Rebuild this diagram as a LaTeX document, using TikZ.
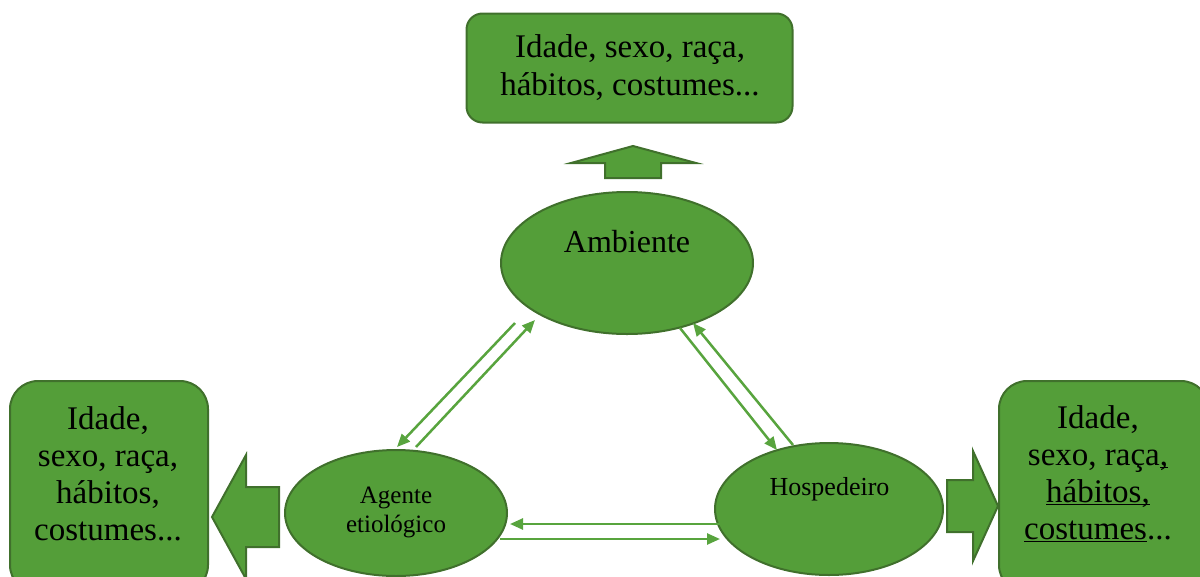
\documentclass[tikz,border=0pt]{standalone}
\usepackage{fontspec}
\setmainfont{Liberation Serif}
\usetikzlibrary{arrows.meta,shapes.geometric}
\definecolor{gfill}{RGB}{84,158,57}
\definecolor{gline}{RGB}{64,112,44}
\definecolor{gconn}{RGB}{88,164,62}
\newcommand{\myul}[1]{\underline{\smash{#1}}\vphantom{#1}}
\tikzset{
  gbox/.style={draw=gline,line width=2pt,fill=gfill,rounded corners=#1},
  gell/.style={ellipse,draw=gline,line width=2pt,fill=gfill,inner sep=0pt},
  blockarrow/.style={draw=gline,line width=2pt,fill=gfill,line join=miter},
  conn/.style={draw=gconn,line width=2.5pt,-{Triangle[length=13pt,width=11pt]}},
  bigtxt/.style={font=\fontsize{33}{38}\selectfont,align=center,inner sep=0pt,text=black},
  sidetxt/.style={font=\fontsize{33}{37}\selectfont,align=center,inner sep=0pt,text=black},
}
\begin{document}
\begin{tikzpicture}[x=1pt,y=-1pt]
\useasboundingbox (0,0) rectangle (1200,576);
% boxes
\node[gbox=16pt,minimum width=326pt,minimum height=109pt] (topbox) at (629.5,68) {};
\node[bigtxt] (toptxt) at (630,68) {Idade, sexo, raça,\\hábitos, costumes...};
\node[gbox=28pt,minimum width=198pt,minimum height=212pt] (leftbox) at (109,487) {};
\node[sidetxt] (lefttxt) at (108,474) {Idade,\\sexo, raça,\\hábitos,\\costumes...};
\node[gbox=28pt,minimum width=210pt,minimum height=212pt] (rightbox) at (1104,487) {};
\node[sidetxt] (righttxt) at (1098,474) {Idade,\\sexo, raça\myul{,}\\\myul{hábitos,}\\\myul{costumes}...};
% ellipses
\node[gell,minimum width=252pt,minimum height=142pt] (amb) at (627,263) {};
\node[font=\fontsize{32}{36}\selectfont,anchor=base,inner sep=0pt] (ambt) at (627,252) {Ambiente};
\node[gell,minimum width=222pt,minimum height=126pt] (age) at (396,513) {};
\node[font=\fontsize{25}{29}\selectfont,align=center,inner sep=0pt] (aget) at (396,512) {Agente\\etiológico};
\node[gell,minimum width=228pt,minimum height=132pt] (hos) at (829,509) {};
\node[font=\fontsize{26}{30}\selectfont,anchor=base,inner sep=0pt] (host) at (829.5,495) {Hospedeiro};
% block arrows
\draw[blockarrow] (633,146) -- (696,163) -- (661,163) -- (661,178) -- (605,178) -- (605,163) -- (571,163) -- cycle;
\draw[blockarrow] (212,517) -- (246,455) -- (246,487) -- (279,487) -- (279,547) -- (246,547) -- (246,579) -- cycle;
\draw[blockarrow] (998,506) -- (973,451) -- (973,480) -- (947,480) -- (947,532) -- (973,532) -- (973,561) -- cycle;
% connector end points
\coordinate (a1) at (515,323); \coordinate (g1) at (397,447);
\coordinate (g2) at (416,447); \coordinate (a2) at (535,320);
\coordinate (a3) at (680,328); \coordinate (h3) at (777,450);
\coordinate (h4) at (793,445); \coordinate (a4) at (693,323);
\coordinate (h5) at (720,524); \coordinate (g5) at (510,524);
\coordinate (g6) at (500,539); \coordinate (h6) at (720,539);
\draw[conn] (a1) -- (g1);
\draw[conn] (g2) -- (a2);
\draw[conn] (a3) -- (h3);
\draw[conn] (h4) -- (a4);
\draw[conn] (h5) -- (g5);
\draw[conn] (g6) -- (h6);
\end{tikzpicture}
\end{document}
